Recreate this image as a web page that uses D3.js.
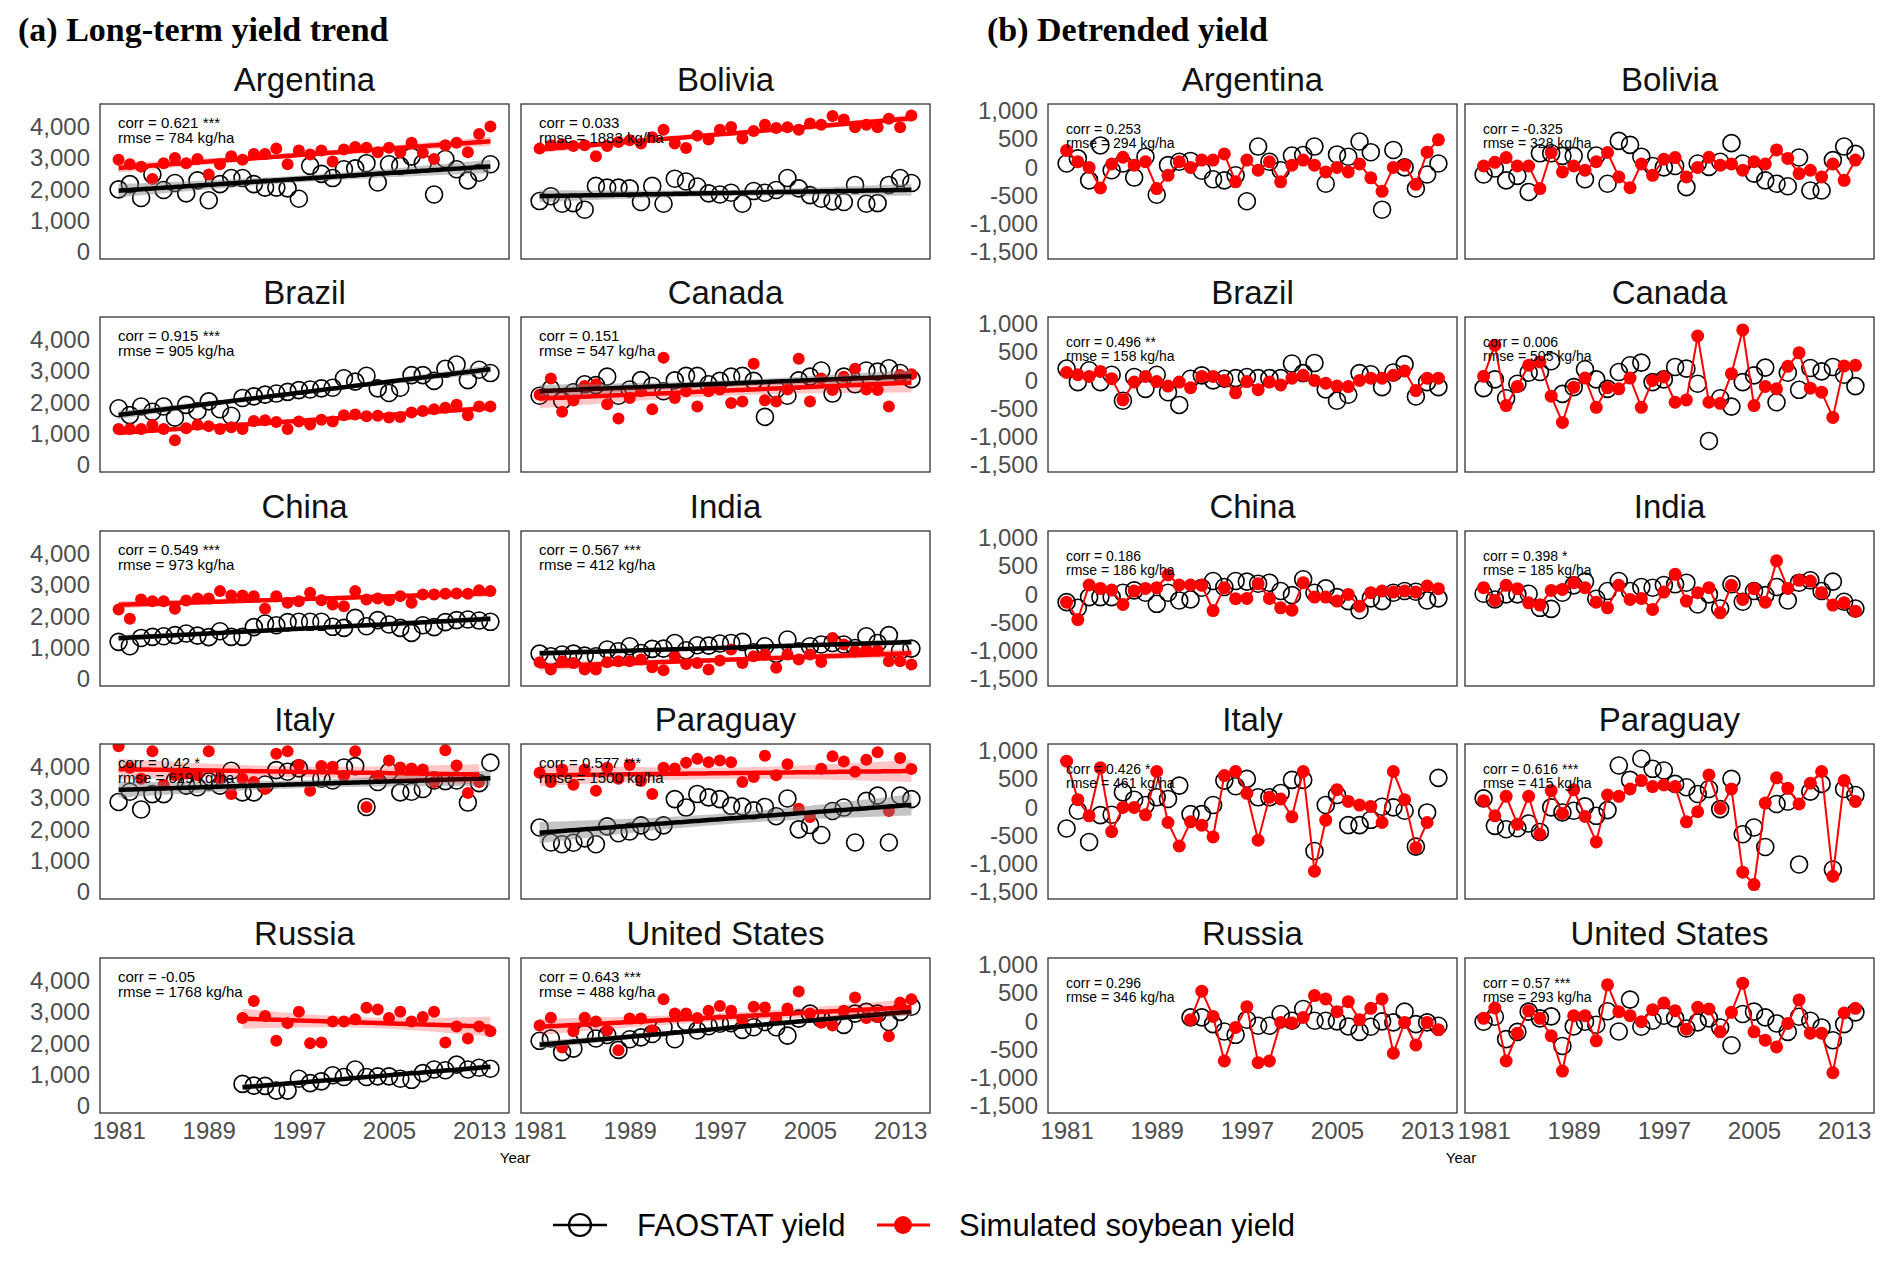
<!DOCTYPE html>
<html>
<head>
<meta charset="utf-8">
<script src="https://cdn.jsdelivr.net/npm/d3@7"></script>
<style>
  body { margin: 0; background: #fff; }
  svg { font-family: "Liberation Sans", Arial, Helvetica, sans-serif; }
</style>
</head>
<body>
<script>
const width = 1892
const height = 1262

/* Years and countries */
const years = [1981,1982,1983,1984,1985,1986,1987,1988,1989,1990,1991,1992,1993,1994,1995,1996,1997,
  1998,1999,2000,2001,2002,2003,2004,2005,2006,2007,2008,2009,2010,2011,2012,2013,2014]
const countries = ["Argentina","Bolivia","Brazil","Canada","China","India","Italy","Paraguay","Russia","United States"]
const yearTicks = [1981, 1989, 1997, 2005, 2013]
const trendTicks = [0, 1000, 2000, 3000, 4000]
const dtTicks = [-1500, -1000, -500, 0, 500, 1000]

/* Statistics printed in the panels */
const trendCorr = ["0.621 ***","0.033","0.915 ***","0.151","0.549 ***","0.567 ***","0.42 *","0.577 ***","-0.05","0.643 ***"]
const trendRmse = [784, 1883, 905, 547, 973, 412, 619, 1500, 1768, 488]
const dtCorr = ["0.253","-0.325","0.496 **","0.006","0.186","0.398 *","0.426 *","0.616 ***","0.296","0.57 ***"]
const dtRmse = [294, 328, 158, 505, 186, 185, 461, 415, 346, 293]

/* Yields (kg/ha): FAOSTAT, simulated, and their detrended anomalies */
const argFao = [2000,2165,1725,2470,1980,2200,1870,2285,1650,2165,2360,2360,2165,2055,2055,2030,1700,2750,2495,2360,2640,2670,2835,2220,2800,2750,3045,2835,1835,2970,2640,2285,2530,2800]
const argSim = [2945,2800,2725,2330,2835,3000,2835,2970,2470,2800,3055,2945,3130,3130,3300,2800,3240,3110,3240,2890,3275,3350,3330,3185,3330,3185,3485,3165,2970,3405,3485,3185,3770,4010]
const argFaoDt = [70,160,-230,390,-50,70,-180,190,-485,40,100,115,-60,-210,-230,-140,-600,370,100,-50,210,220,370,-290,230,190,460,270,-750,310,0,-375,-125,70]
const argSimDt = [300,100,0,-365,60,180,40,100,-375,-140,100,0,130,130,240,-255,130,-50,100,-255,40,130,40,-80,0,-80,60,-185,-425,0,40,-300,270,490]

const bolFao = [1625,1780,1540,1560,1350,2110,2055,2055,2030,1595,2110,1540,2340,2250,2090,1870,1835,1890,1540,1945,1890,1980,2360,2030,1815,1700,1615,1595,2140,1540,1560,2140,2360,2200]
const bolSim = [3300,3405,3440,3385,3405,3055,3385,3515,3570,3460,3660,3900,3460,3320,3715,3590,3900,3990,3625,3865,4065,3955,3980,3900,4100,4065,4340,4230,3980,4065,3980,4255,3980,4360]
const bolFaoDt = [-125,-20,-230,-150,-435,250,250,205,205,-210,210,-290,470,400,190,25,0,25,-350,70,10,100,430,70,-110,-230,-290,-335,175,-410,-410,130,370,240]
const bolSimDt = [25,90,175,25,25,-375,265,-80,25,-50,100,265,-170,-360,60,-140,145,175,-170,0,180,40,60,-50,100,60,310,160,-110,-50,-170,60,-230,130]

const braFao = [1810,1590,1865,1700,1865,1510,1920,1725,2030,1780,1570,2140,2190,2245,2280,2335,2390,2410,2445,2465,2770,2660,2850,2445,2300,2465,2870,2870,2685,3070,3210,2710,3040,2935]
const braSim = [1150,1150,1150,1280,1150,790,1170,1280,1240,1150,1205,1150,1400,1425,1370,1150,1390,1295,1445,1390,1590,1610,1555,1570,1515,1535,1675,1720,1775,1830,1920,1590,1865,1865]
const braFaoDt = [210,-30,180,-30,100,-360,60,-150,100,-210,-435,30,90,0,30,40,60,40,40,40,300,130,310,-160,-360,-255,130,110,-120,140,285,-285,-30,-120]
const braSimDt = [140,100,70,160,30,-345,-30,70,-20,-100,-30,-130,70,70,0,-220,-20,-165,-30,-80,40,90,0,-50,-100,-110,0,40,40,90,165,-180,40,40]

const canFao = [2210,2430,2055,2320,2575,2550,2820,2210,2410,2710,2520,2355,2700,2845,2845,2575,2685,2820,2845,2685,1535,2410,2210,2700,2820,3015,2280,2820,2575,3015,2980,3090,2935,2740]
const canSim = [2245,2760,1700,2055,2520,2575,1940,1480,2140,2355,1775,3420,2140,2355,1865,2355,2410,1975,2030,3230,2065,2030,2410,3395,2030,2760,2390,2820,3070,2410,2390,1865,2870,2900]
const canFaoDt = [-137,18,-316,-60,137,149,340,-239,-120,197,18,-150,149,268,316,-30,18,239,209,-60,-1074,-316,-465,-30,90,227,-388,137,-167,221,161,239,101,-101]
const canSimDt = [72,626,-447,-107,268,328,-280,-746,-120,42,-477,-130,-150,42,-477,0,60,-388,-346,788,-388,-406,120,895,-447,-107,-150,250,490,-137,-209,-656,257,268]

const chnFao = [1185,1045,1310,1345,1365,1400,1450,1385,1335,1525,1345,1345,1655,1770,1715,1815,1825,1825,1825,1665,1630,1950,1685,1880,1740,1630,1470,1715,1655,1815,1880,1900,1865,1825]
const chnSim = [2220,1920,2540,2485,2485,2240,2505,2570,2570,2805,2665,2665,2645,2240,2645,2430,2485,2750,2515,2380,2325,2805,2540,2570,2515,2645,2430,2700,2700,2720,2730,2720,2835,2805]
const chnFaoDt = [-137,-238,-48,-48,-48,30,71,30,-167,30,-107,-89,119,238,131,238,226,190,208,60,-12,268,30,107,-48,-119,-280,-71,-119,30,60,48,-107,-71]
const chnSimDt = [-137,-446,167,107,77,-179,60,107,119,345,167,167,161,-286,119,-77,-71,190,-71,-238,-280,208,-48,-48,-119,0,-208,30,60,42,60,42,149,101]

const indFao = [810,725,780,810,745,725,940,885,1045,830,960,970,1150,915,1075,1065,1130,1150,1185,855,1045,800,1260,885,1045,1100,1150,1100,990,1365,1150,1400,905,970]
const indSim = [535,300,565,510,300,300,535,565,565,620,375,275,725,480,510,300,590,940,510,725,780,355,780,620,780,545,1310,1100,885,940,905,565,565,460]
const indFaoDt = [12,-89,0,0,12,-238,-256,30,161,226,-77,60,238,60,131,119,167,179,208,-179,0,-250,179,-131,60,-12,131,-107,208,250,60,226,-131,-250]
const indSimDt = [119,-107,161,101,-149,-190,71,89,208,119,-137,-238,161,-89,-71,-268,42,357,-119,30,119,-327,161,-89,101,-137,595,107,250,238,30,-190,-149,-298]

const itaFao = [2875,3200,2635,3125,3125,3560,3395,3345,3530,3395,3870,3180,3180,3430,3890,3840,3945,3615,3615,3560,3975,4020,2715,3510,3840,3180,3200,3290,3560,3540,3560,2855,3475,4130]
const itaSim = [4655,3965,3615,4490,3420,3725,3780,3725,4490,3615,3125,3615,3510,3290,4415,4490,4055,3235,4020,4000,3705,4490,2715,3705,4195,3975,3945,3910,3510,4525,4035,3160,3510,null]
const itaFaoDt = [-375,-60,-613,-137,-131,268,137,42,179,149,387,-119,-119,42,476,375,506,179,179,256,488,488,-774,42,220,-315,-315,-220,12,0,-60,-696,-89,524]
const itaSimDt = [821,137,-149,702,-429,0,0,-131,637,-268,-685,-256,-315,-524,565,637,250,-583,179,149,-167,637,-1131,-226,315,107,42,18,-268,637,137,-714,-268,null]

const parFao = [2060,1580,1525,1570,1710,1525,2095,1875,1930,2125,1930,2125,2965,2695,3130,3020,2965,2750,2725,2605,2715,2420,2985,2000,2140,1820,2585,2695,1580,2910,3075,1580,3075,2965]
const parSim = [3805,3510,3910,3420,3910,3235,3965,3615,4055,3540,3130,3965,3945,4130,4250,4140,4195,4140,3510,3670,4350,3725,4075,2660,2390,3935,4330,4165,3840,4220,4460,2585,4275,3925]
const parFaoDt = [161,-327,-387,-369,-286,-435,0,-89,-60,18,-149,-48,744,488,863,685,655,417,357,238,327,-30,506,-476,-357,-702,60,101,-1012,280,417,-1101,327,220]
const parSimDt = [119,-149,197,-298,197,-476,298,-107,315,-161,-613,220,197,327,476,369,399,369,-256,-77,577,-18,327,-1149,-1369,77,524,339,60,429,637,-1220,476,107]

const rusFao = [null,null,null,null,null,null,null,null,null,null,null,705,650,640,490,490,870,730,785,980,925,1165,925,945,945,870,835,1050,1165,1140,1320,1165,1220,1190]
const rusSim = [null,null,null,null,null,null,null,null,null,null,null,2810,3350,2875,2085,2645,3005,2005,2030,2700,2700,2765,3135,3080,2810,3005,2700,2840,3005,2030,2535,2155,2535,2385]
const rusFaoDt = [null,null,null,null,null,null,null,null,null,null,null,71,71,-48,-179,-238,30,-77,-77,131,12,220,12,12,0,-89,-185,-95,0,-18,173,-48,-18,-77]
const rusSimDt = [null,null,null,null,null,null,null,null,null,null,null,30,536,89,-702,-107,262,-732,-702,-18,-30,71,458,399,173,351,30,232,399,-565,-18,-417,-18,-149]

const usaFao = [2080,2155,1720,1830,2300,2155,2265,1790,2130,2190,2300,2515,2130,2680,2410,2545,2625,2645,2430,2515,2680,2515,2245,2790,2950,2790,2790,2590,2950,3005,2950,2680,3005,3170]
const usaSim = [2570,2820,1865,2385,2820,2700,2410,1780,2790,2790,2410,3405,2950,2950,2810,3040,3190,3040,2740,3170,3145,2790,3115,3655,2950,2655,2570,3040,3460,2810,2840,2225,3300,3405]
const usaFaoDt = [-6,83,-315,-185,173,54,89,-435,-89,-6,-60,179,-179,387,-95,12,101,54,-125,-18,54,-107,-423,131,173,71,-36,-185,83,12,-107,-333,-48,161]
const usaSimDt = [54,238,-702,-208,190,54,-256,-881,101,101,-345,649,173,101,-6,208,327,190,-137,250,220,-185,161,679,-185,-333,-452,-36,381,-208,-208,-911,149,232]

/* Table built from the arrays above */
const table = [
  [argFao, argSim, argFaoDt, argSimDt],
  [bolFao, bolSim, bolFaoDt, bolSimDt],
  [braFao, braSim, braFaoDt, braSimDt],
  [canFao, canSim, canFaoDt, canSimDt],
  [chnFao, chnSim, chnFaoDt, chnSimDt],
  [indFao, indSim, indFaoDt, indSimDt],
  [itaFao, itaSim, itaFaoDt, itaSimDt],
  [parFao, parSim, parFaoDt, parSimDt],
  [rusFao, rusSim, rusFaoDt, rusSimDt],
  [usaFao, usaSim, usaFaoDt, usaSimDt]
]

/* Layout */
const groupX = [[100, 521], [1048, 1465]]
const panelW = 409
const panelH = 155
const rowY = [104, 317, 531, 744, 958]
const RED = "#ff0000"
const SERIF = "'Liberation Serif', 'Times New Roman', Times, serif"

const svg = d3.select("body").append("svg")
  .attr("width", width)
  .attr("height", height)

const fmt = v => d3.format(",")(v).replace("\u2212", "-")

/* Linear fit with 95% confidence band, like geom_smooth(method = "lm") */
function linearFit(pts) {
  const n = pts.length
  const mx = d3.mean(pts, d => d[0]), my = d3.mean(pts, d => d[1])
  const sxx = d3.sum(pts, d => (d[0] - mx) ** 2)
  const sxy = d3.sum(pts, d => (d[0] - mx) * (d[1] - my))
  const b = sxy / sxx, a = my - b * mx
  const s = Math.sqrt(d3.sum(pts, d => (d[1] - a - b * d[0]) ** 2) / (n - 2))
  const t = 2.04
  const x0 = d3.min(pts, d => d[0]), x1 = d3.max(pts, d => d[0])
  const grid = d3.range(x0, x1 + 0.001, 0.25)
  return grid.map(x => {
    const yh = a + b * x
    const se = s * Math.sqrt(1 / n + (x - mx) ** 2 / sxx)
    return {x, y: yh, lo: yh - t * se, hi: yh + t * se}
  })
}

function pairs(vals) {
  return years.map((yr, i) => [yr, vals[i]]).filter(d => d[1] != null)
}

function drawPanel(px, py, ci, detrended, showY, showX) {
  const [fao, sim, faoDt, simDt] = table[ci]
  const x = d3.scaleLinear().domain([1979.35, 2015.65]).range([px, px + panelW])
  const y = detrended
    ? d3.scaleLinear().domain([-1625, 1125]).range([py + panelH, py])
    : d3.scaleLinear().domain([-225, 4725]).range([py + panelH, py])

  const g = svg.append("g")

  /* Panel title */
  g.append("text")
    .attr("x", px + panelW / 2)
    .attr("y", py - 13)
    .attr("text-anchor", "middle")
    .attr("font-size", 33)
    .attr("fill", "#111")
    .text(countries[ci])

  const clipId = "clip" + ci + (detrended ? "d" : "t")
  svg.append("clipPath").attr("id", clipId)
    .append("rect").attr("x", px).attr("y", py).attr("width", panelW).attr("height", panelH)
  const body = g.append("g").attr("clip-path", `url(#${clipId})`)

  if (!detrended) {
    const faoPts = pairs(fao), simPts = pairs(sim)
    body.selectAll(".fao").data(faoPts).enter().append("circle")
      .attr("cx", d => x(d[0])).attr("cy", d => y(d[1])).attr("r", 8.5)
      .attr("fill", "none").attr("stroke", "#000").attr("stroke-width", 1.6)
    body.selectAll(".sim").data(simPts).enter().append("circle")
      .attr("cx", d => x(d[0])).attr("cy", d => y(d[1])).attr("r", 6)
      .attr("fill", RED)

    const fits = [[faoPts, "#7f7f7f", 0.45, "#000"], [simPts, RED, 0.22, RED]]
    fits.forEach(([pts, bandCol, op, lineCol]) => {
      const fit = linearFit(pts)
      body.append("path")
        .attr("d", d3.area().x(d => x(d.x)).y0(d => y(d.lo)).y1(d => y(d.hi))(fit))
        .attr("fill", bandCol).attr("opacity", op)
      body.append("path")
        .attr("d", d3.line().x(d => x(d.x)).y(d => y(d.y))(fit))
        .attr("fill", "none").attr("stroke", lineCol).attr("stroke-width", 4.5)
    })
  } else {
    const faoPts = pairs(faoDt), simPts = pairs(simDt)
    body.selectAll(".fao").data(faoPts).enter().append("circle")
      .attr("cx", d => x(d[0])).attr("cy", d => y(d[1])).attr("r", 8.5)
      .attr("fill", "none").attr("stroke", "#000").attr("stroke-width", 1.6)
    body.append("path")
      .attr("d", d3.line().x(d => x(d[0])).y(d => y(d[1]))(simPts))
      .attr("fill", "none").attr("stroke", RED).attr("stroke-width", 2)
    body.selectAll(".sim").data(simPts).enter().append("circle")
      .attr("cx", d => x(d[0])).attr("cy", d => y(d[1])).attr("r", 6.5)
      .attr("fill", RED)
  }

  /* Statistics text */
  const corr = detrended ? dtCorr[ci] : trendCorr[ci]
  const rmse = detrended ? dtRmse[ci] : trendRmse[ci]
  const t0 = detrended ? 30 : 24, dt = detrended ? 14 : 15
  const fs = detrended ? 14 : 15
  g.append("text").attr("x", px + 18).attr("y", py + t0)
    .attr("font-size", fs).attr("fill", "#000").text("corr = " + corr)
  g.append("text").attr("x", px + 18).attr("y", py + t0 + dt)
    .attr("font-size", fs).attr("fill", "#000").text("rmse = " + rmse + " kg/ha")

  /* Panel border */
  g.append("rect")
    .attr("x", px).attr("y", py).attr("width", panelW).attr("height", panelH)
    .attr("fill", "none").attr("stroke", "#333").attr("stroke-width", 1.3)

  if (showY) {
    const ax = g.append("g").attr("transform", `translate(${px},0)`)
      .call(d3.axisLeft(y).tickValues(detrended ? dtTicks : trendTicks).tickSize(0).tickPadding(10).tickFormat(fmt))
    ax.select(".domain").remove()
    ax.selectAll("text").attr("font-size", 24).attr("fill", "#4d4d4d")
      .style("font-family", "'Liberation Sans', Arial, sans-serif")
  }
  if (showX) {
    const ax = g.append("g").attr("transform", `translate(0,${py + panelH})`)
      .call(d3.axisBottom(x).tickValues(yearTicks).tickSize(0).tickPadding(9).tickFormat(d3.format("d")))
    ax.select(".domain").remove()
    ax.selectAll("text").attr("font-size", 24).attr("fill", "#4d4d4d")
      .style("font-family", "'Liberation Sans', Arial, sans-serif")
  }
}

/* Draw both groups of panels */
countries.forEach((c, ci) => {
  const row = Math.floor(ci / 2), col = ci % 2
  drawPanel(groupX[0][col], rowY[row], ci, false, col === 0, row === 4)
  drawPanel(groupX[1][col], rowY[row], ci, true, col === 0, row === 4)
})

/* Group headings */
svg.append("text").attr("x", 18).attr("y", 41)
  .style("font-family", SERIF)
  .attr("font-weight", "bold").attr("font-size", 34)
  .text("(a) Long-term yield trend")
svg.append("text").attr("x", 987).attr("y", 41)
  .style("font-family", SERIF)
  .attr("font-weight", "bold").attr("font-size", 34)
  .text("(b) Detrended yield")

/* Year labels */
groupX.forEach(gx => {
  svg.append("text")
    .attr("x", (gx[0] + gx[1] + panelW) / 2)
    .attr("y", 1163)
    .attr("text-anchor", "middle")
    .attr("font-size", 15)
    .text("Year")
})

/* Legend */
const legend = svg.append("g").attr("transform", "translate(0,1225)")
legend.append("line").attr("x1", 553).attr("x2", 607).attr("y1", 0).attr("y2", 0)
  .attr("stroke", "#000").attr("stroke-width", 2.5)
legend.append("circle").attr("cx", 580).attr("cy", 0).attr("r", 11)
  .attr("fill", "none").attr("stroke", "#000").attr("stroke-width", 2.2)
legend.append("text").attr("x", 637).attr("y", 11).attr("font-size", 31).text("FAOSTAT yield")
legend.append("line").attr("x1", 877).attr("x2", 930).attr("y1", 0).attr("y2", 0)
  .attr("stroke", RED).attr("stroke-width", 3)
legend.append("circle").attr("cx", 903).attr("cy", 0).attr("r", 9).attr("fill", RED)
legend.append("text").attr("x", 959).attr("y", 11).attr("font-size", 31).text("Simulated soybean yield")
</script>
</body>
</html>
